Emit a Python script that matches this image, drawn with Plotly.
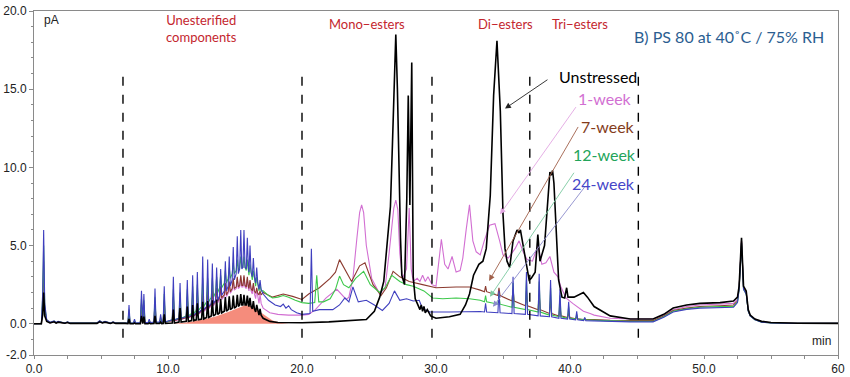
import plotly.graph_objects as go

# ---------------- data ----------------
SERIES = ["Unstressed", "1-week", "7-week", "12-week", "24-week"]

# early region (0 - 6.8 min)
EARLY_T = [0, 0.55, 0.65, 0.72, 0.8, 0.95, 1.2, 1.5, 1.65, 1.8, 2.3, 2.5, 2.7, 4.7, 4.9, 5.1, 5.3, 5.7, 5.9, 6.1, 6.8]
E_U = [0, 0, 0.6, 2.0, 0.5, 0.15, 0.05, 0.12, 0.04, 0.1, 0.03, 0.08, 0.02, 0.02, 0.12, 0.05, 0.1, 0.02, 0.08, 0.02, 0.02]
E_W1 = [0, 0, 1.0, 3.0, 0.7, 0.18, 0.06, 0.13, 0.05, 0.11, 0.04, 0.09, 0.03, 0.03, 0.14, 0.06, 0.11, 0.03, 0.09, 0.03, 0.03]
E_W7 = [0, 0, 1.3, 4.0, 0.9, 0.2, 0.07, 0.14, 0.06, 0.12, 0.04, 0.1, 0.03, 0.03, 0.16, 0.07, 0.12, 0.04, 0.1, 0.04, 0.04]
E_W12 = [0, 0, 1.7, 5.0, 1.1, 0.22, 0.08, 0.16, 0.07, 0.13, 0.05, 0.11, 0.04, 0.04, 0.18, 0.07, 0.13, 0.04, 0.11, 0.04, 0.04]
E_W24 = [0, 0, 2.0, 6.0, 1.3, 0.25, 0.1, 0.18, 0.08, 0.15, 0.05, 0.12, 0.05, 0.05, 0.2, 0.08, 0.15, 0.05, 0.12, 0.05, 0.05]

# oligomer comb (unesterified components): peak times, apex heights and bases
COMB_T = [7.09, 7.5, 8.02, 8.2, 8.6, 9.03, 9.45, 9.72, 10.40, 10.90, 11.44, 11.84, 12.19, 12.59, 12.96,
          13.31, 13.63, 13.93, 14.28, 14.57, 14.87, 15.17, 15.43, 15.67, 15.92, 16.12, 16.37, 16.62, 16.87]
CH_U = [0.3, 0.05, 0.5, 0.45, 0.05, 0.5, 0.1, 0.6, 0.9, 1.0, 1.1, 1.2, 1.3, 1.4, 1.45, 1.5, 1.55, 1.6, 1.7, 1.75,
        1.8, 1.85, 1.9, 1.85, 1.8, 1.65, 1.45, 1.2, 0.95]
CB_U = [0, 0, 0, 0, 0, 0.01, 0.01, 0.02, 0.05, 0.1, 0.15, 0.2, 0.25, 0.3, 0.4, 0.5, 0.6, 0.7, 0.8, 0.9,
        1.0, 1.1, 1.2, 1.2, 1.2, 1.1, 0.95, 0.75, 0.55]
CH_W1 = [0.6, 0.12, 1.2, 1.1, 0.12, 1.3, 0.28, 1.4, 1.6, 1.5, 1.6, 1.8, 1.9, 2.1, 2.1, 2.1, 2.2, 2.3, 2.5, 2.6,
         2.8, 2.9, 3.0, 3.0, 2.9, 2.7, 2.5, 2.2, 1.9]
CB_W1 = [0.02, 0.02, 0.04, 0.04, 0.04, 0.06, 0.06, 0.09, 0.18, 0.27, 0.37, 0.47, 0.6, 0.78, 0.97, 1.15, 1.35,
         1.55, 1.75, 1.95, 2.15, 2.25, 2.35, 2.35, 2.25, 2.1, 1.9, 1.6, 1.3]
CH_W7 = [0.7, 0.15, 1.3, 1.2, 0.15, 1.4, 0.3, 1.5, 1.7, 1.6, 1.7, 1.9, 2.0, 2.2, 2.2, 2.2, 2.3, 2.4, 2.6, 2.7,
         2.9, 3.0, 3.1, 3.1, 3.0, 2.8, 2.6, 2.3, 2.1]
CB_W7 = [0.03, 0.03, 0.05, 0.05, 0.05, 0.07, 0.07, 0.1, 0.2, 0.3, 0.4, 0.5, 0.65, 0.85, 1.05, 1.25, 1.45, 1.65,
         1.85, 2.05, 2.25, 2.35, 2.45, 2.45, 2.35, 2.25, 2.1, 1.95, 1.85]
CH_W12 = [0.9, 0.2, 1.6, 1.5, 0.2, 1.7, 0.4, 1.9, 2.2, 2.0, 2.2, 2.4, 2.5, 2.9, 2.9, 2.9, 3.0, 3.1, 3.4, 3.6,
          3.9, 4.1, 4.3, 4.3, 4.1, 3.8, 3.4, 3.0, 2.5]
CB_W12 = [0.04, 0.04, 0.06, 0.06, 0.06, 0.08, 0.08, 0.1, 0.25, 0.35, 0.5, 0.65, 0.85, 1.1, 1.4, 1.7, 2.0, 2.3,
          2.6, 2.9, 3.2, 3.4, 3.6, 3.6, 3.4, 3.1, 2.8, 2.4, 2.1]
CH_W24 = [1.2, 0.3, 2.1, 1.9, 0.3, 2.25, 0.6, 2.4, 3.0, 2.6, 2.8, 3.1, 3.3, 4.3, 4.1, 3.85, 3.6, 3.5, 4.0, 4.3,
          4.9, 5.6, 6.0, 6.0, 5.5, 5.0, 4.2, 3.6, 2.8]
CB_W24 = [0.05, 0.05, 0.08, 0.08, 0.08, 0.1, 0.1, 0.12, 0.25, 0.35, 0.45, 0.55, 0.7, 0.9, 1.1, 1.3, 1.5, 1.8,
          2.1, 2.4, 2.8, 3.2, 3.5, 3.6, 3.5, 3.3, 3.0, 2.6, 2.2]

# salmon-filled hump under the unstressed comb
SALMON_T = [10.3, 11.5, 12.5, 13.5, 14.5, 15.2, 15.8, 16.3, 16.8, 17.3, 17.8, 18.5, 19.0]
SALMON_Y = [0, 0.1, 0.25, 0.45, 0.75, 1.0, 1.2, 1.1, 0.8, 0.45, 0.2, 0.05, 0]

# ester region, explicit points
M_T_U = [17.1, 17.6, 18.2, 19.0, 20.0, 22.0, 24.0, 24.8, 25.4, 25.8, 26.1, 26.3, 26.45, 26.6, 26.75, 26.88, 27.0,
         27.12, 27.25, 27.35, 27.45, 27.65, 27.82, 27.93, 28.05, 28.19, 28.3, 28.45, 28.6, 28.8, 28.9, 29.0, 29.1,
         29.2, 29.35, 29.6, 30.0, 31.0, 31.8, 32.2, 32.5, 32.8, 33.2, 33.5, 33.75, 34.05, 34.3, 34.55, 34.8, 35.0,
         35.15, 35.3, 35.5, 35.75, 36.05, 36.2, 36.3, 36.5, 36.77, 36.95, 37.1, 37.4, 37.6, 37.76, 38.1, 38.35,
         38.5, 38.6, 38.7, 38.8, 38.95, 39.15, 39.4, 39.6, 39.75, 39.85, 40.3, 40.7, 41.0, 41.3, 41.5]
M_Y_U = [0.35, 0.15, 0.08, 0.05, 0.06, 0.12, 0.2, 0.27, 0.8, 1.7, 2.7, 4.6, 6.1, 7.5, 11.5, 16.0, 18.5,
         15.0, 9.0, 5.5, 3.1, 2.5, 8.0, 14.6, 7.6, 16.7, 3.0, 1.6, 1.3, 0.9, 1.2, 0.8, 1.1,
         0.7, 0.9, 0.5, 0.35, 0.45, 0.6, 1.2, 1.9, 3.1, 3.8, 4.0, 4.8, 8.2, 14.6, 18.1, 13.6, 7.0,
         4.8, 4.0, 3.6, 5.3, 6.0, 5.8, 6.0, 5.0, 3.8, 2.8, 2.9, 3.3, 5.7, 4.0, 5.0, 8.0,
         9.7, 9.5, 9.8, 9.0, 6.6, 2.8, 1.7, 1.65, 2.3, 1.7, 1.7, 1.9, 2.0, 1.7, 1.45]

M_T_W1 = [17.1, 17.6, 18.2, 19.0, 20.0, 20.5, 21.0, 21.8, 22.6, 23.3, 23.5, 23.8, 24.1, 24.3, 24.45, 24.6, 24.8,
          25.2, 25.8, 26.2, 26.5, 26.85, 27.0, 27.15, 27.3, 27.5, 27.8, 28.0, 28.15, 28.3, 28.6, 28.8, 29.0,
          29.2, 29.4, 29.7, 30.0, 30.2, 30.4, 30.65, 30.9, 31.2, 31.5, 31.8, 32.0, 32.25, 32.5, 32.75, 33.0,
          33.3, 33.6, 34.0, 34.4, 34.75, 35.0, 35.4, 35.9, 36.2, 36.5, 36.8, 37.2, 37.6, 37.9, 38.2, 38.5, 38.8,
          39.1, 39.3, 39.7, 40.2, 40.5, 41.0, 41.5]
M_Y_W1 = [1.0, 0.7, 0.6, 0.55, 0.55, 0.6, 0.9, 1.65, 2.2, 1.55, 1.7, 2.9, 5.5, 7.1, 7.6, 7.1, 5.0,
          2.9, 1.9, 2.3, 4.5, 7.4, 7.9, 7.3, 4.5, 2.9, 3.5, 7.4, 3.5, 2.7, 2.9, 2.7, 3.1,
          2.7, 3.0, 2.5, 2.4, 4.0, 5.4, 3.8, 3.5, 4.3, 3.3, 3.4, 4.2, 6.0, 7.6, 5.3, 4.6,
          4.4, 5.3, 6.3, 6.4, 5.3, 4.4, 4.2, 4.8, 5.3, 4.6, 4.1, 4.0, 5.0, 3.8, 3.9, 4.3, 3.3,
          3.0, 2.4, 1.65, 1.3, 1.1, 0.8, 0.65]

M_T_W7 = [17.1, 17.8, 18.6, 19.3, 20.0, 20.5, 21.3, 22.1, 22.5, 22.8, 23.3, 23.7, 24.3, 24.7, 25.3, 25.9, 26.3,
          26.8, 27.3, 28.0, 29.0, 30.0, 31.5, 32.5, 33.3]
M_Y_W7 = [2.0, 1.7, 1.9, 1.75, 1.55, 1.9, 2.3, 2.9, 3.3, 4.1, 3.35, 2.7, 3.7, 3.9, 2.5, 1.8, 2.3,
          3.35, 3.0, 2.7, 2.5, 2.3, 2.35, 2.35, 2.15]

M_T_W12 = [17.1, 17.5, 17.8, 18.2, 18.6, 19.0, 19.5, 20.0, 20.5, 20.95, 21.1, 21.25, 21.6, 22.1, 22.5, 22.8,
           23.1, 23.5, 24.0, 24.6, 25.1, 25.8, 26.2, 26.7, 27.3, 27.8, 28.3, 29.1, 29.75, 30.5, 31.5, 32.5, 33.3]
M_Y_W12 = [2.1, 1.8, 1.65, 1.7, 1.8, 1.7, 1.5, 1.35, 1.3, 1.35, 3.1, 1.4, 1.4, 1.6, 2.2, 3.05,
           2.5, 2.3, 2.9, 3.35, 2.5, 2.0, 2.3, 3.1, 2.7, 2.5, 2.4, 2.1, 1.65, 1.6, 1.65, 1.6, 1.5]

M_T_W24 = [17.1, 17.5, 18.0, 18.4, 18.6, 18.8, 19.0, 19.2, 19.6, 20.0, 20.6, 20.7, 20.8, 21.3, 22.3, 22.8, 23.2,
           23.5, 23.8, 24.2, 24.8, 25.4, 26.0, 26.5, 26.9, 27.3, 27.8, 28.3, 28.75, 29.0, 29.55, 31.0, 32.5, 33.3]
M_Y_W24 = [1.9, 1.5, 1.2, 1.1, 1.25, 1.0, 1.15, 0.9, 0.7, 0.6, 0.65, 4.8, 0.8, 0.9, 0.9, 1.2, 1.65,
           1.4, 2.35, 1.4, 1.5, 1.2, 0.85, 1.3, 2.1, 1.5, 1.6, 1.45, 1.5, 0.95, 0.75, 0.75, 0.8, 0.78]

# tri-ester region sharp peaks (aged samples)
TRI_T = [33.7, 34.7, 35.75, 36.75, 37.7, 38.55, 39.25, 39.9, 40.5, 41.1]
TH_W7 = [2.4, 2.3, 2.2, 2.1, 1.9, 1.5, 1.1, 0.7, 0.45, 0.3]
TB_W7 = [2.05, 1.8, 1.45, 1.15, 0.9, 0.65, 0.5, 0.4, 0.32, 0.27]
TH_W12 = [1.8, 1.9, 2.6, 2.8, 2.7, 2.3, 1.8, 1.1, 0.6, 0.35]
TB_W12 = [1.4, 1.25, 1.05, 0.9, 0.75, 0.55, 0.45, 0.35, 0.3, 0.25]
TH_W24 = [1.3, 2.1, 3.0, 3.3, 3.2, 2.8, 2.2, 1.4, 0.8, 0.4]
TB_W24 = [0.75, 0.7, 0.65, 0.6, 0.5, 0.45, 0.35, 0.3, 0.25, 0.2]

# late region (41.8 - 60 min)
LATE_T = [41.8, 43.0, 44.5, 46.2, 47.0, 47.7, 48.7, 49.7, 51.2, 52.2, 52.5, 52.62, 52.8, 52.95, 53.15, 53.3,
          53.45, 53.8, 54.3, 55.0, 57.0, 60.0]
L_U = [1.1, 0.5, 0.3, 0.3, 0.6, 1.0, 1.2, 1.3, 1.35, 1.45, 1.7, 2.4, 5.5, 2.4, 2.1, 0.9, 0.55, 0.3, 0.15, 0.08, 0.03, 0.02]
L_W1 = [0.55, 0.35, 0.3, 0.3, 0.55, 0.9, 1.1, 1.2, 1.25, 1.3, 1.55, 2.3, 5.3, 2.3, 2.0, 0.85, 0.5, 0.28, 0.12, 0.06, 0.03, 0.02]
L_W7 = [0.27, 0.22, 0.2, 0.2, 0.5, 0.85, 1.0, 1.1, 1.15, 1.2, 1.45, 2.3, 5.3, 2.3, 2.0, 0.85, 0.5, 0.28, 0.12, 0.06, 0.03, 0.02]
L_W12 = [0.22, 0.18, 0.15, 0.15, 0.45, 0.8, 0.95, 1.05, 1.1, 1.1, 1.4, 2.2, 5.2, 2.2, 1.9, 0.8, 0.5, 0.26, 0.1, 0.05, 0.02, 0.02]
L_W24 = [0.18, 0.15, 0.12, 0.12, 0.42, 0.75, 0.92, 1.0, 1.05, 1.05, 1.35, 2.2, 5.2, 2.2, 1.9, 0.8, 0.5, 0.26, 0.1, 0.05, 0.02, 0.02]

# region dividers (min) and labels
DIVIDERS = [6.64, 20.0, 29.7, 37.0, 45.1]
REGION_LABELS = ["Unesterified<br>components", "Mono\u2212esters", "Di\u2212esters", "Tri\u2212esters"]
REGION_X = [12.5, 24.85, 35.2, 40.75]

X_TICKS = [0, 10, 20, 30, 40, 50, 60]
X_TICKTEXT = ["0.0", "10.0", "20.0", "30.0", "40.0", "50.0", "60"]
Y_TICKS = [-2, 0, 5, 10, 15, 20]
Y_TICKTEXT = ["-2.0", "0.0", "5.0", "10.0", "15.0", "20.0"]

COLORS = {"Unstressed": "#000000", "1-week": "#D26FD2", "7-week": "#8B3A2F", "12-week": "#3CC84A", "24-week": "#3F3FBF"}
TEXT_COLORS = {"Unstressed": "#000000", "1-week": "#D26FD2", "7-week": "#843C1C", "12-week": "#22A45A", "24-week": "#4646C8"}
ARROW_COLORS = {"Unstressed": "#222222", "1-week": "#E2A6E2", "7-week": "#A0604A", "12-week": "#7CC9A0", "24-week": "#8C8CCC"}


def spikes(times, heights, bases, hw=0.08):
    xs, ys = [], []
    for t, h, b in zip(times, heights, bases):
        xs += [t - hw, t, t + hw]
        ys += [b, h, b]
    return xs, ys


def build(early, ch, cb, mt, my, th, tb, late):
    cx, cy = spikes(COMB_T, ch, cb)
    x = list(EARLY_T) + cx + list(mt)
    y = list(early) + cy + list(my)
    if th:
        tx, ty = spikes(TRI_T, th, tb)
        x += tx
        y += ty
    x += list(LATE_T)
    y += list(late)
    return x, y


TRACES = {
    "1-week": build(E_W1, CH_W1, CB_W1, M_T_W1, M_Y_W1, None, None, L_W1),
    "7-week": build(E_W7, CH_W7, CB_W7, M_T_W7, M_Y_W7, TH_W7, TB_W7, L_W7),
    "12-week": build(E_W12, CH_W12, CB_W12, M_T_W12, M_Y_W12, TH_W12, TB_W12, L_W12),
    "24-week": build(E_W24, CH_W24, CB_W24, M_T_W24, M_Y_W24, TH_W24, TB_W24, L_W24),
    "Unstressed": build(E_U, CH_U, CB_U, M_T_U, M_Y_U, None, None, L_U),
}

fig = go.Figure()
fig.add_trace(go.Scatter(x=SALMON_T, y=SALMON_Y, mode="lines", fill="tozeroy",
                         fillcolor="rgba(244,128,110,0.9)", line=dict(width=0, color="rgba(244,128,110,0.9)"),
                         hoverinfo="skip", showlegend=False))
for name in ["1-week", "7-week", "12-week", "24-week", "Unstressed"]:
    x, y = TRACES[name]
    fig.add_trace(go.Scatter(x=x, y=y, mode="lines", name=name,
                             line=dict(color=COLORS[name], width=1.6 if name == "Unstressed" else 1.1),
                             showlegend=False))

# dividers
for d in DIVIDERS:
    fig.add_shape(type="line", x0=d, x1=d, y0=-0.9, y1=15.9, xref="x", yref="y",
                  line=dict(color="black", width=1.4, dash="dash"))

ann = []
for lab, xc in zip(REGION_LABELS, REGION_X):
    ann.append(dict(x=xc, y=19.2 if "<br>" not in lab else 18.85, text=lab, showarrow=False,
                    font=dict(family="Lato, Liberation Sans, Arial", size=13, color="#C4262E"),
                    xanchor="center", yanchor="middle"))
ann.append(dict(x=51.9, y=18.4, text="B) PS 80 at 40\u02daC / 75% RH", showarrow=False,
                font=dict(family="Lato, Liberation Sans, Arial", size=16, color="#2B5E91"),
                xanchor="center", yanchor="middle"))
ann.append(dict(x=0.6, y=19.45, text="pA", showarrow=False, xanchor="left", yanchor="middle",
                font=dict(family="Liberation Sans, Arial", size=12, color="#222")))
ann.append(dict(x=59.6, y=-1.1, text="min", showarrow=False, xanchor="right", yanchor="middle",
                font=dict(family="Liberation Sans, Arial", size=12, color="#222")))

# legend texts and arrows
LEG_POS = {"Unstressed": (42.1, 15.8), "1-week": (42.6, 14.4), "7-week": (42.8, 12.6),
           "12-week": (42.6, 10.8), "24-week": (42.5, 8.95)}
ARROWS = {"Unstressed": ((38.43, 15.67), (35.15, 13.76)),
          "1-week": ((40.52, 13.95), (34.78, 7.0)),
          "7-week": ((40.67, 12.68), (33.96, 2.74)),
          "12-week": ((40.37, 9.75), (34.03, 1.72)),
          "24-week": ((41.19, 8.85), (34.25, 1.08))}
for name in SERIES:
    px_, py_ = LEG_POS[name]
    ann.append(dict(x=px_, y=py_, text=name, showarrow=False, xanchor="center", yanchor="middle",
                    font=dict(family="Lato, Liberation Sans, Arial", size=16, color=TEXT_COLORS[name])))
    (tx, ty), (hx, hy) = ARROWS[name]
    ann.append(dict(x=hx, y=hy, ax=tx, ay=ty, axref="x", ayref="y", xref="x", yref="y", text="",
                    showarrow=True, arrowhead=2, arrowsize=1.3, arrowwidth=0.9,
                    arrowcolor=ARROW_COLORS[name]))

fig.update_layout(
    width=850, height=377,
    margin=dict(l=34, r=12, t=11, b=22),
    paper_bgcolor="white", plot_bgcolor="white",
    annotations=ann,
    font=dict(family="Liberation Sans, Arial", size=12, color="#222"),
    showlegend=False,
)
fig.update_xaxes(range=[0, 60], tickmode="array", tickvals=X_TICKS, ticktext=X_TICKTEXT,
                 showgrid=False, zeroline=False, showline=True, linecolor="#8a8a8a", linewidth=1, mirror=True,
                 ticks="outside", ticklen=3, tickcolor="#8a8a8a",
                 minor=dict(tickmode="linear", tick0=0, dtick=2.5, ticks="outside", ticklen=3, tickcolor="#8a8a8a"),
                 tickfont=dict(size=12, color="#222"), automargin=False)
fig.update_yaxes(range=[-2, 20], tickmode="array", tickvals=Y_TICKS, ticktext=Y_TICKTEXT,
                 showgrid=False, zeroline=False, showline=True, linecolor="#8a8a8a", linewidth=1, mirror=True,
                 ticks="outside", ticklen=4, tickcolor="#8a8a8a",
                 minor=dict(tickmode="linear", tick0=-2, dtick=1, ticks="outside", ticklen=2, tickcolor="#8a8a8a"),
                 tickfont=dict(size=12, color="#222"), automargin=False)

fig.write_html("out.html", config={"displayModeBar": False},
               post_script="document.body.style.margin='0px';document.body.style.overflow='hidden';")
